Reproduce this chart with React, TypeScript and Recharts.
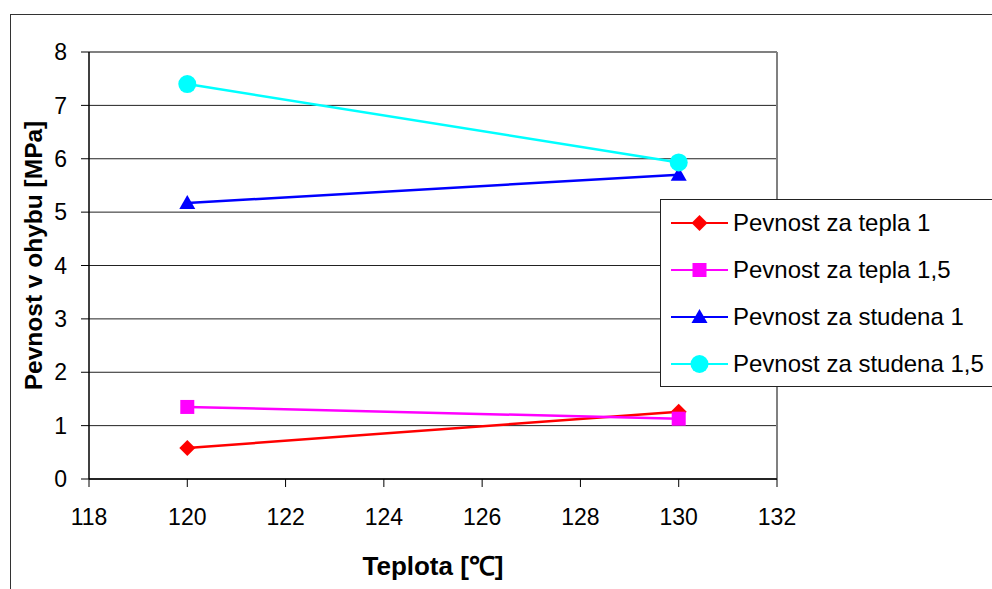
import React from 'react';
import { LineChart, Line, XAxis, YAxis, CartesianGrid, ReferenceLine } from 'recharts';

const temperatures = [120, 130];
const teplaOne = [0.58, 1.26];
const teplaOneFive = [1.35, 1.13];
const studenaOne = [5.17, 5.7];
const studenaOneFive = [7.4, 5.93];
const xTicks = [118, 120, 122, 124, 126, 128, 130, 132];
const yTicks = [0, 1, 2, 3, 4, 5, 6, 7, 8];

const seriesNames = ['Pevnost za tepla 1', 'Pevnost za tepla 1,5', 'Pevnost za studena 1', 'Pevnost za studena 1,5'];
const seriesColors = ['#ff0000', '#ff00ff', '#0000ff', '#00ffff'];
const seriesShapes = ['diamond', 'square', 'triangle', 'circle'];
const seriesKeys = ['a', 'b', 'c', 'd'];

const data = temperatures.map((t, i) => ({
  x: t,
  a: teplaOne[i],
  b: teplaOneFive[i],
  c: studenaOne[i],
  d: studenaOneFive[i],
}));

const FONT = '"Liberation Sans", Arial, sans-serif';

function Marker({ shape, cx, cy, color }: { shape: string; cx: number; cy: number; color: string }) {
  if (cx == null || cy == null) return null;
  if (shape === 'diamond') {
    const r = 8;
    return <polygon points={`${cx},${cy - r} ${cx + r},${cy} ${cx},${cy + r} ${cx - r},${cy}`} fill={color} stroke="none" />;
  }
  if (shape === 'square') {
    const s = 7;
    return <rect x={cx - s} y={cy - s} width={2 * s} height={2 * s} fill={color} stroke="none" />;
  }
  if (shape === 'triangle') {
    return <polygon points={`${cx},${cy - 8} ${cx + 8},${cy + 6} ${cx - 8},${cy + 6}`} fill={color} stroke="none" />;
  }
  return <circle cx={cx} cy={cy} r={9} fill={color} stroke="none" />;
}

function LegendBox() {
  return (
    <div style={{ position: 'absolute', left: 660, top: 199, width: 340, height: 188, border: '1px solid #222', background: '#fff', boxSizing: 'border-box' }}>
      {seriesNames.map((name, i) => (
        <div key={name} style={{ position: 'absolute', left: 0, top: 23 + i * 47 - 15, height: 30, width: 340 }}>
          <svg width={70} height={30} style={{ position: 'absolute', left: 10, top: 0 }}>
            <line x1={0} y1={15} x2={57} y2={15} stroke={seriesColors[i]} strokeWidth={2} />
            <Marker shape={seriesShapes[i]} cx={28.5} cy={15} color={seriesColors[i]} />
          </svg>
          <span style={{ position: 'absolute', left: 72, top: 1, fontSize: 24, fontFamily: FONT, color: '#000', whiteSpace: 'nowrap', lineHeight: '28px' }}>
            {name}
          </span>
        </div>
      ))}
    </div>
  );
}

export default function App() {
  return (
    <div style={{ position: 'absolute', left: 0, top: 0, width: 992, height: 589, background: '#fff', overflow: 'hidden', fontFamily: FONT }}>
      <div style={{ position: 'absolute', left: 10, top: 14, width: 1000, height: 600, border: '1px solid #333' }} />
      <div style={{ position: 'absolute', left: 0, top: 0 }}>
        <LineChart width={992} height={589} data={data} margin={{ top: 52, right: 215, bottom: 10, left: 0 }}>
          <CartesianGrid vertical={false} stroke="#222" strokeWidth={1} />
          <ReferenceLine y={8} stroke="#808080" strokeWidth={2} />
          <ReferenceLine x={132} stroke="#808080" strokeWidth={2} />
          <XAxis
            type="number"
            dataKey="x"
            domain={[118, 132]}
            ticks={xTicks}
            interval={0}
            height={100}
            tickSize={8}
            tickMargin={22}
            axisLine={{ stroke: '#000', strokeWidth: 1.5 }}
            tickLine={{ stroke: '#000', strokeWidth: 1 }}
            tick={{ fill: '#000', fontSize: 23, fontFamily: FONT }}
            label={{ value: 'Teplota [℃]', position: 'insideBottom', offset: 4, fill: '#000', fontSize: 26, fontWeight: 'bold', fontFamily: FONT }}
          />
          <YAxis
            type="number"
            domain={[0, 8]}
            ticks={yTicks}
            interval={0}
            width={89}
            tickSize={8}
            tickMargin={14}
            axisLine={{ stroke: '#000', strokeWidth: 1.5 }}
            tickLine={{ stroke: '#000', strokeWidth: 1 }}
            tick={{ fill: '#000', fontSize: 23, fontFamily: FONT }}
            label={{ value: 'Pevnost v ohybu [MPa]', angle: -90, position: 'center', dx: -11, dy: -10, fill: '#000', fontSize: 24.5, fontWeight: 'bold', fontFamily: FONT }}
          />
          {seriesKeys.map((k, i) => (
            <Line
              key={k}
              type="linear"
              dataKey={k}
              name={seriesNames[i]}
              stroke={seriesColors[i]}
              strokeWidth={2.5}
              isAnimationActive={false}
              dot={(p: any) => <Marker key={`${k}-${p.index}`} shape={seriesShapes[i]} cx={p.cx} cy={p.cy} color={seriesColors[i]} />}
              activeDot={false}
            />
          ))}
        </LineChart>
      </div>
      <LegendBox />
    </div>
  );
}
